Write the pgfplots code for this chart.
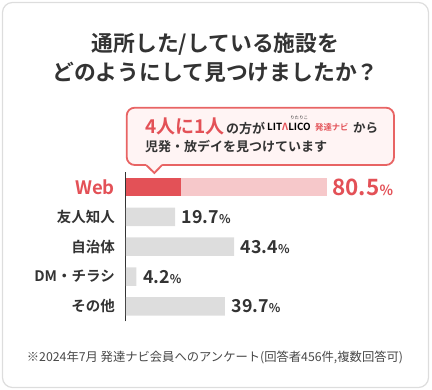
\documentclass[border=0pt]{standalone}
\usepackage{pgfplots}
\pgfplotsset{compat=1.18}
\usepackage{fontspec}
\setmainfont{Noto Sans CJK JP}[BoldFont={Noto Sans CJK JP Bold}]
\definecolor{cred}{HTML}{E35157}
\definecolor{cpink}{HTML}{F6C8CA}
\definecolor{cgray}{HTML}{DDDDDD}
\definecolor{ctext}{HTML}{333333}
\definecolor{cborder}{HTML}{DDDDDD}
\definecolor{cfill}{HTML}{FFF4F4}
\definecolor{cline}{HTML}{E86464}
\newcommand{\fs}[1]{\fontsize{#1}{#1}\selectfont}
\begin{document}
\begin{tikzpicture}[x=1pt,y=1pt]
\useasboundingbox (0,0) rectangle (432,390);
\draw[cborder, line width=1.2pt, rounded corners=10pt] (2.5,2.5) rectangle (428.5,387.5);
% title
\node[anchor=base, inner sep=0pt, text=ctext] at (215.5,390-51.5) {\fs{21.8}\bfseries 通所した/している施設を};
\node[anchor=base, inner sep=0pt, text=ctext] at (215.5,390-80.5) {\fs{21.8}\bfseries どのようにして見つけましたか？};
% callout
\draw[cline, fill=cfill, line width=1.8pt, rounded corners=8pt] (126.7,390-165) rectangle (394,390-107.7);
\fill[cfill] (146.2,390-163.4) -- (146.2,390-165) -- (154.3,390-173) -- (162.2,390-165) -- (162.2,390-163.4) -- cycle;
\draw[cline, line width=1.8pt] (146.2,390-165) -- (154.3,390-173) -- (162.2,390-165);
\node[anchor=base west, inner sep=0pt, text=cred] at (145,390-134) {\fs{19}\bfseries 4人に1人};
\node[anchor=base west, inner sep=0pt, text=ctext] at (226,390-134) {\fs{13}\bfseries の方が};
\node[anchor=base west, inner sep=0pt, text=black] at (267,390-130.5) {\fs{9.8}\bfseries LIT{\color{cred}Λ}LICO};
\node[inner sep=0pt, text=ctext] at (299,390-118) {\fs{4.5}りたりこ};
\node[anchor=base west, inner sep=0pt, text=cred] at (315,390-130.5) {\fs{8.3}\bfseries 発達ナビ};
\node[anchor=base west, inner sep=0pt, text=ctext] at (353,390-133) {\fs{12.5}\bfseries から};
\node[anchor=base west, inner sep=0pt, text=ctext] at (145,390-152) {\fs{13}\bfseries 児発・放デイを見つけています};
% chart
\begin{axis}[
  at={(126pt,68.56pt)}, anchor=south west, scale only axis,
  width=249.3pt, height=149.4pt,
  xmin=0, xmax=100, ymin=-0.5, ymax=4.5,
  axis x line=none, axis y line*=left,
  y axis line style={draw=ctext, line width=1pt},
  ytick={0,1,2,3,4},
  yticklabels={その他, DM・チラシ, 自治体, 友人知人, {\color{cred}\fs{18.5}Web}},
  major tick length=0pt,
  yticklabel style={anchor=east, inner sep=0pt, xshift=-11pt, text=ctext, font=\fs{14.5}\bfseries},
  xbar, bar width=18.5pt,
  clip=false,
]
\addplot[draw=none, fill=cpink, bar shift=0pt, point meta=explicit symbolic,
  nodes near coords={\fs{22.5}\bfseries\pgfplotspointmeta{\fs{14}\%}},
  every node near coord/.append style={anchor=west, inner sep=0pt, xshift=5.5pt, text=cred}]
  table[meta=lab] {
x y lab
80.5 4 80.5
};
\addplot[draw=none, fill=cred, bar shift=0pt] table {
x y
22 4
};
\addplot[draw=none, fill=cgray, bar shift=0pt, point meta=explicit symbolic,
  nodes near coords={\fs{17.8}\bfseries\pgfplotspointmeta{\fs{12}\%}},
  every node near coord/.append style={anchor=west, inner sep=0pt, xshift=6.5pt, text=ctext}]
  table[meta=lab] {
x y lab
19.7 3 19.7
43.4 2 43.4
4.2 1 4.2
39.7 0 39.7
};
\end{axis}
% footer
\node[anchor=base, inner sep=0pt, text=ctext!90] at (215,390-362) {\fs{12.3}※2024年7月 発達ナビ会員へのアンケート(回答者456件,複数回答可)};
\end{tikzpicture}
\end{document}
